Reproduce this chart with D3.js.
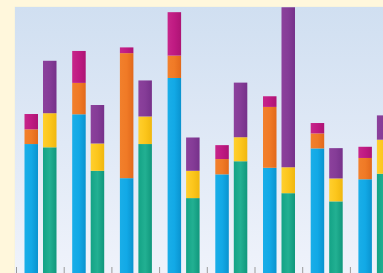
<!DOCTYPE html>
<html>
<head>
<meta charset="utf-8">
<script src="https://cdn.jsdelivr.net/npm/d3@7"></script>
<style>
  html, body { margin: 0; padding: 0; background: #fff7dc; }
  svg { display: block; }
</style>
</head>
<body>
<script>
// groups along the x axis (no labels are shown in the picture)
const groups = ["G1", "G2", "G3", "G4", "G5", "G6", "G7", "G8"];

// first stack of each group: blue / orange / magenta
const blueVals    = [49.8, 60.7, 37.3, 74.0, 38.7, 41.1, 48.2, 36.9];
const orangeVals  = [ 5.4, 11.5, 45.8,  8.2,  5.6, 22.3,  5.5,  7.8];
const magentaVals = [ 5.6, 11.7,  2.1, 15.9,  5.1,  3.9,  3.8,  4.1];

// second stack of each group: green / yellow / purple
const greenVals   = [48.6, 40.0, 49.8, 30.0, 43.5, 31.8, 28.8, 38.9];
const yellowVals  = [12.5, 10.0, 10.1, 10.0,  8.8,  9.5,  8.4, 12.5];
const purpleVals  = [19.2, 14.1, 13.2, 12.2, 20.0, 58.6, 11.1,  8.9];

const W = 383, H = 273;
const plot = {left: 15, top: 7};

const svg = d3.select("body").append("svg")
  .attr("width", W)
  .attr("height", H);

const defs = svg.append("defs");

// plot background gradient
const bg = defs.append("linearGradient")
  .attr("id", "bg").attr("x1", 0).attr("y1", 0).attr("x2", 0).attr("y2", 1);
bg.append("stop").attr("offset", "0%").attr("stop-color", "#d0dff1");
bg.append("stop").attr("offset", "100%").attr("stop-color", "#f0f3fb");

// bar gradients: lighter toward the left, a bit darker on the right
const colors = {
  blue:    ["#1aaee8", "#12a9e6", "#0a93cf"],
  orange:  ["#f2802c", "#f07a26", "#e2691b"],
  magenta: ["#c7268a", "#bf1a82", "#ad1474"],
  green:   ["#14a386", "#22b092", "#10977c"],
  yellow:  ["#ffcf2e", "#fcc61c", "#f0b70f"],
  purple:  ["#8c419c", "#853c97", "#76318a"]
};
Object.entries(colors).forEach(([k, c]) => {
  const g = defs.append("linearGradient").attr("id", "g-" + k)
    .attr("x1", 0).attr("y1", 0).attr("x2", 1).attr("y2", 0);
  g.append("stop").attr("offset", "0%").attr("stop-color", c[0]);
  g.append("stop").attr("offset", "50%").attr("stop-color", c[1]);
  g.append("stop").attr("offset", "100%").attr("stop-color", c[2]);
});

defs.append("clipPath").attr("id", "clip")
  .append("rect")
  .attr("x", plot.left).attr("y", plot.top)
  .attr("width", W - plot.left).attr("height", H - plot.top);

// plot area with thin light border
svg.append("rect")
  .attr("x", plot.left - 0.5).attr("y", plot.top - 0.5)
  .attr("width", W).attr("height", H)
  .attr("fill", "#f4f1dc");
svg.append("rect")
  .attr("x", plot.left).attr("y", plot.top)
  .attr("width", W).attr("height", H)
  .attr("fill", "url(#bg)");

// scales
const x = d3.scaleBand()
  .domain(groups)
  .range([16, 16 + 47.7 * groups.length])
  .padding(0);

const xInner = d3.scaleBand()
  .domain(["a", "b"])
  .range([8.5, 40.5])
  .paddingInner(0.27);

const y = d3.scaleLinear()
  .domain([0, 100])
  .range([280, 7]);

const stacks = [
  {key: "a", series: [["blue", blueVals], ["orange", orangeVals], ["magenta", magentaVals]]},
  {key: "b", series: [["green", greenVals], ["yellow", yellowVals], ["purple", purpleVals]]}
];

const segs = [];
groups.forEach((grp, i) => {
  stacks.forEach(st => {
    let base = 0;
    st.series.forEach(([name, vals]) => {
      segs.push({grp: grp, key: st.key, color: name, y0: base, y1: base + vals[i]});
      base += vals[i];
    });
  });
});

svg.append("g")
  .attr("clip-path", "url(#clip)")
  .selectAll("rect")
  .data(segs)
  .enter().append("rect")
    .attr("x", d => x(d.grp) + xInner(d.key))
    .attr("width", xInner.bandwidth())
    .attr("y", d => y(d.y1))
    .attr("height", d => y(d.y0) - y(d.y1))
    .attr("fill", d => "url(#g-" + d.color + ")");

// bottom tick marks at group boundaries
const axis = d3.axisBottom(d3.scalePoint().domain(groups).range([16, 16 + 47.7 * (groups.length - 1)]))
  .tickSize(8)
  .tickFormat("");
const ax = svg.append("g")
  .attr("transform", "translate(0," + (H - 6) + ")")
  .call(axis);
ax.select(".domain").remove();
ax.selectAll(".tick line").attr("stroke", "#9a9a9a").attr("stroke-width", 1);
</script>
</body>
</html>
